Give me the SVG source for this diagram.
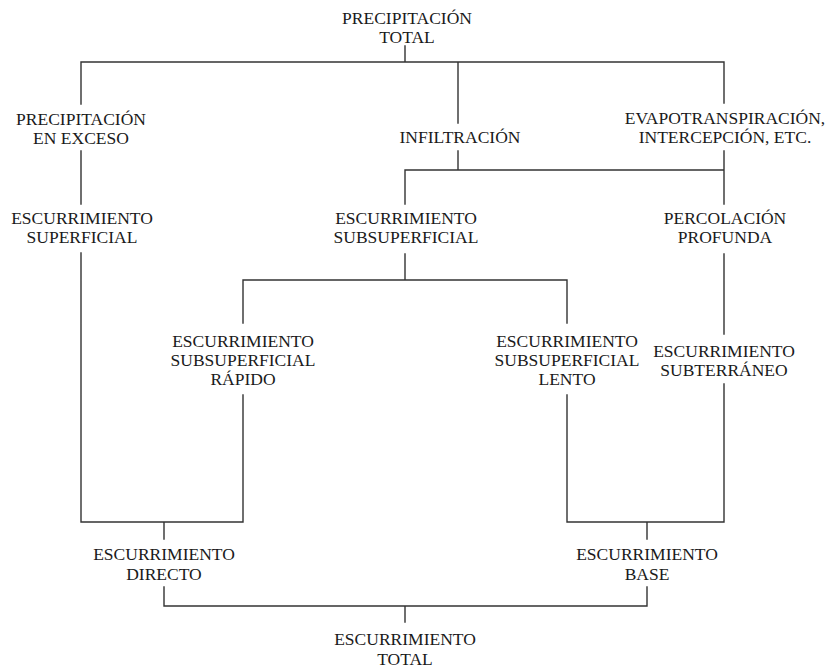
<svg xmlns="http://www.w3.org/2000/svg" width="828" height="669" viewBox="0 0 828 669">
<style>
text{font-family:"Liberation Serif","Times New Roman",serif;font-size:17.5px;fill:#1a1a1a;text-anchor:middle}
.c{stroke:#333;stroke-width:1.4;fill:none;stroke-linecap:square}
</style>
<rect width="828" height="669" fill="#fff"/>
<g id="connectors" class="c">
<path d="M405,46V62M81,62H724M81,62V104M81,151V204M81,253V522M458,62V123M458,151V170M724,62V103M724,151V204M405,170H724M405,170V204M405,254V280M243,280H567M243,280V323M243,395V522M567,280V323M567,395V522M724,254V334M724,384V522M81,522H243M567,522H724M164,522V539M647,522V539M164,587V606M647,587V606M164,606H647M405,606V622"/>
</g>
<g id="precipitacion_total"><text x="407" y="24">PRECIPITACIÓN</text><text x="407" y="43">TOTAL</text></g>
<g id="precipitacion_exceso"><text x="81" y="125">PRECIPITACIÓN</text><text x="81" y="144">EN EXCESO</text></g>
<g id="infiltracion"><text x="460" y="143">INFILTRACIÓN</text></g>
<g id="evapotranspiracion"><text x="725" y="124">EVAPOTRANSPIRACIÓN,</text><text x="725" y="143">INTERCEPCIÓN, ETC.</text></g>
<g id="escurrimiento_superficial"><text x="82" y="224">ESCURRIMIENTO</text><text x="82" y="243">SUPERFICIAL</text></g>
<g id="escurrimiento_subsuperficial"><text x="406" y="224">ESCURRIMIENTO</text><text x="406" y="243">SUBSUPERFICIAL</text></g>
<g id="percolacion_profunda"><text x="725" y="224">PERCOLACIÓN</text><text x="725" y="243">PROFUNDA</text></g>
<g id="subsuperficial_rapido"><text x="243" y="347">ESCURRIMIENTO</text><text x="243" y="366">SUBSUPERFICIAL</text><text x="243" y="385">RÁPIDO</text></g>
<g id="subsuperficial_lento"><text x="567" y="347">ESCURRIMIENTO</text><text x="567" y="366">SUBSUPERFICIAL</text><text x="567" y="385">LENTO</text></g>
<g id="escurrimiento_subterraneo"><text x="724" y="357">ESCURRIMIENTO</text><text x="724" y="376">SUBTERRÁNEO</text></g>
<g id="escurrimiento_directo"><text x="164" y="560">ESCURRIMIENTO</text><text x="164" y="580">DIRECTO</text></g>
<g id="escurrimiento_base"><text x="647" y="560">ESCURRIMIENTO</text><text x="647" y="580">BASE</text></g>
<g id="escurrimiento_total"><text x="405" y="645">ESCURRIMIENTO</text><text x="405" y="665">TOTAL</text></g>
</svg>
